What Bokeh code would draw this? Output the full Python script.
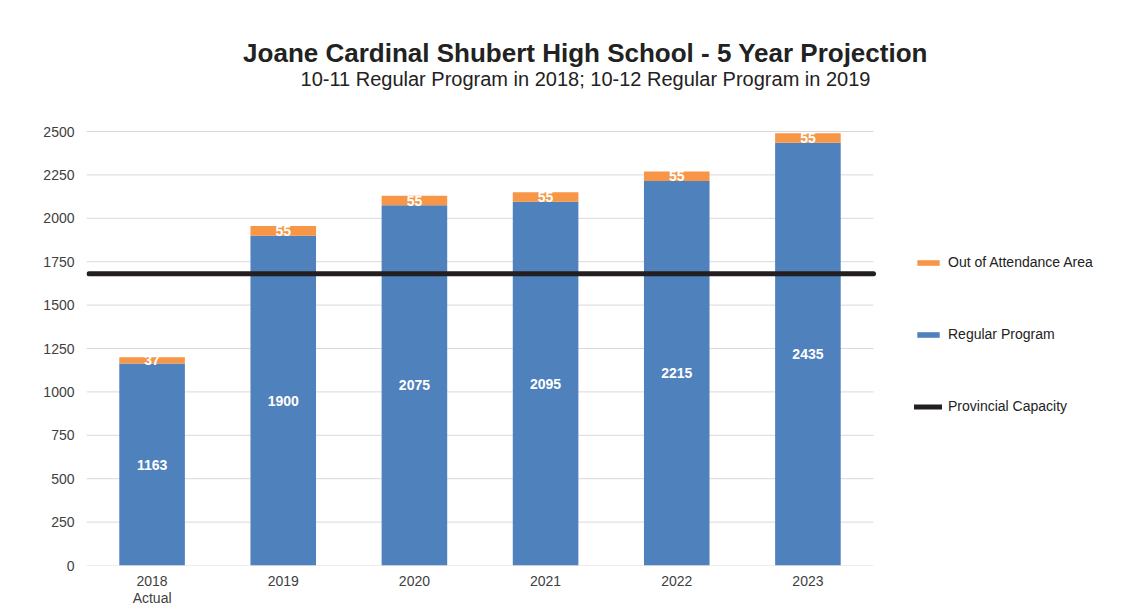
from bokeh.plotting import figure
from bokeh.models import (ColumnDataSource, Legend, LegendItem, Label, FixedTicker,
                          Range1d, LinearAxis, CustomJSTickFormatter)
from bokeh.embed import file_html
from bokeh.resources import INLINE
from bokeh.core.properties import value

# ---- data ----
years = ["2018", "2019", "2020", "2021", "2022", "2023"]
year_sub = ["Actual", "", "", "", "", ""]
regular = [1163, 1900, 2075, 2095, 2215, 2435]
out_area = [37, 55, 55, 55, 55, 55]
capacity = 1680
y_ticks = [0, 250, 500, 750, 1000, 1250, 1500, 1750, 2000, 2250, 2500]
title_text = "Joane Cardinal Shubert High School - 5 Year Projection"
subtitle_text = "10-11 Regular Program in 2018; 10-12 Regular Program in 2019"
series_names = ["Regular Program", "Out of Attendance Area", "Provincial Capacity"]

# ---- style / layout ----
FONT = "Liberation Sans"
BLUE = "#4F81BD"
ORANGE = "#F79646"
BLACK = "#231F20"
GRID = "#D9D9D9"
TXT = "#222222"

W, H = 1120, 608
F_LEFT, F_RIGHT, F_TOP, F_BOTTOM = 86, 1110, 10, 565   # frame edges in pixels
BARS_RIGHT = 873                                        # right end of the category area
Y_TOP_PX = 131                                          # pixel row of the 2500 gridline
n = len(years)
sx = (BARS_RIGHT - F_LEFT) / n
sy = (F_BOTTOM - Y_TOP_PX) / y_ticks[-1]


def dx(px):
    return 0.5 + (px - F_LEFT) / sx


def dy(py):
    return (F_BOTTOM - py) / sy


xpos = list(range(1, n + 1))
src = ColumnDataSource(dict(
    x=xpos,
    regular=regular,
    out=out_area,
    reg_mid=[r / 2 for r in regular],
    out_mid=[r + o / 2 for r, o in zip(regular, out_area)],
    reg_txt=[str(r) for r in regular],
    out_txt=[str(o) for o in out_area],
))

p = figure(x_range=Range1d(0.5, dx(F_RIGHT)), y_range=Range1d(0, dy(F_TOP)),
           width=W, height=H, title=None,
           output_backend="svg", toolbar_location=None,
           min_border_left=F_LEFT, min_border_right=W - F_RIGHT,
           min_border_top=F_TOP, min_border_bottom=H - F_BOTTOM)
p.outline_line_color = None
p.background_fill_color = "white"
p.border_fill_color = "white"
p.xgrid.visible = False
p.ygrid.visible = False

# gridlines (limited to the category area)
p.segment(x0=0.5, x1=n + 0.5, y0=y_ticks, y1=y_ticks, line_color=GRID, line_width=1)

rs = p.vbar_stack(["regular", "out"], x="x", width=0.5, color=[BLUE, ORANGE],
                  line_color=None, source=src)

cap_r = p.segment(x0=dx(F_LEFT + 2.5), x1=dx(873), y0=capacity, y1=capacity,
                  line_color=BLACK, line_width=5, line_cap="round")

p.text(x="x", y="reg_mid", text="reg_txt", source=src, text_color="white",
       text_font=value(FONT), text_font_size="14px", text_font_style="bold",
       text_align="center", text_baseline="middle")
p.text(x="x", y="out_mid", text="out_txt", source=src, text_color="white",
       text_font=value(FONT), text_font_size="14px", text_font_style="bold",
       text_align="center", text_baseline="middle")

# titles
p.add_layout(Label(x=dx(585), y=dy(52), text=title_text, text_align="center",
                   text_baseline="alphabetic", text_font=FONT, text_font_size="26px",
                   text_font_style="bold", text_color=TXT))
p.add_layout(Label(x=dx(585), y=dy(78), text=subtitle_text, text_align="center",
                   text_baseline="alphabetic", text_font=FONT, text_font_size="20px",
                   text_color=TXT))

# axes
p.yaxis.ticker = FixedTicker(ticks=y_ticks)
p.yaxis.axis_line_color = None
p.yaxis.major_label_standoff = 12

p.xaxis.ticker = FixedTicker(ticks=xpos)
p.xaxis.formatter = CustomJSTickFormatter(args=dict(labels=years),
                                          code="return labels[Math.round(tick) - 1];")
p.xaxis.axis_line_color = None
p.xaxis.major_label_standoff = 10

ax2 = LinearAxis(ticker=FixedTicker(ticks=xpos),
                 formatter=CustomJSTickFormatter(args=dict(labels=year_sub),
                                                 code="return labels[Math.round(tick) - 1];"),
                 axis_line_color=None, major_label_standoff=1)
p.add_layout(ax2, "below")

for ax in (p.xaxis + p.yaxis):
    ax.major_tick_line_color = None
    ax.minor_tick_line_color = None
    ax.major_tick_out = 0
    ax.major_tick_in = 0
    ax.minor_tick_out = 0
    ax.major_label_text_font = FONT
    ax.major_label_text_font_size = "14px"
    ax.major_label_text_color = "#404040"

legend = Legend(items=[
    LegendItem(label=series_names[1], renderers=[rs[1]]),
    LegendItem(label=series_names[0], renderers=[rs[0]]),
    LegendItem(label=series_names[2], renderers=[cap_r]),
], location=(914 - F_LEFT, F_BOTTOM - 416), padding=0, margin=0, spacing=52,
   glyph_width=28, glyph_height=7, label_height=20, label_standoff=6,
   border_line_color=None, background_fill_alpha=0,
   label_text_font=FONT, label_text_font_size="14px", label_text_color=TXT)
p.add_layout(legend, "center")

open("out.html", "w").write(file_html(p, INLINE))
